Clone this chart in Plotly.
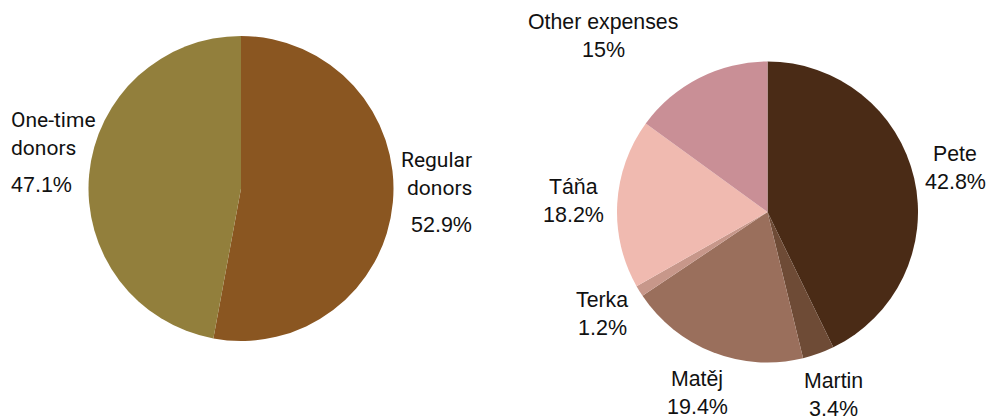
import math
import plotly.graph_objects as go

# ---------------- data ----------------
donor_labels = ["Regular donors", "One-time donors"]
donor_names = [["Regular", "donors"], ["One-time", "donors"]]
donor_values = [52.9, 47.1]

expense_labels = ["Pete", "Martin", "Matěj", "Terka", "Táňa", "Other expenses"]
expense_names = [["Pete"], ["Martin"], ["Matěj"], ["Terka"], ["Táňa"], ["Other expenses"]]
expense_values = [42.8, 3.4, 19.4, 1.2, 18.2, 15]

# ---------------- styles ----------------
W, H = 989, 419
donor_colors = ["#8A5621", "#927F3C"]
expense_colors = ["#4A2B16", "#6E4B36", "#9A6F5C", "#C7978A", "#F0BAB0", "#C98F96"]

# pie geometry in page pixels
left_pie = dict(cx=241, cy=188.5, r=152.5)
right_pie = dict(cx=767.5, cy=212, r=150.5)
LABEL_R = 1.29

# per-label nudges (px) and anchor
donor_label_style = [dict(dx=37, dy=-14, xanchor="right", align="right"),
                     dict(dx=-36, dy=-18, xanchor="left", align="left")]
expense_label_style = [dict(dx=-1.5, dy=0, xanchor="center", align="center")] + \
                      [dict(dx=0, dy=0, xanchor="center", align="center")] * 4 + \
                      [dict(dx=-76, dy=-3, xanchor="center", align="center")]

NAME_FONT_L = dict(family="Roboto", size=21, color="#111111")
PCT_FONT = dict(family="Liberation Sans", size=21.5, color="#111111")
NAME_FONT_R = dict(family="Liberation Sans", size=21.3, color="#111111")


def px(x):
    return x / W


def py(y):
    return 1 - y / H


def domain(p):
    return dict(x=[px(p["cx"] - p["r"]), px(p["cx"] + p["r"])],
                y=[py(p["cy"] + p["r"]), py(p["cy"] - p["r"])])


def fmt(v):
    return f"{v:g}%"


fig = go.Figure()
fig.add_trace(go.Pie(labels=donor_labels, values=donor_values, sort=False, direction="clockwise",
                     rotation=0, textinfo="none", hoverinfo="label+percent",
                     marker=dict(colors=donor_colors, line=dict(width=0)),
                     domain=domain(left_pie), showlegend=False))
fig.add_trace(go.Pie(labels=expense_labels, values=expense_values, sort=False, direction="clockwise",
                     rotation=0, textinfo="none", hoverinfo="label+percent",
                     marker=dict(colors=expense_colors, line=dict(width=0)),
                     domain=domain(right_pie), showlegend=False))

annotations = []


def add_labels(pie, names, values, styles, name_font, name_gap, pct_gap):
    total = sum(values)
    cum = 0
    for nm, v, st in zip(names, values, styles):
        mid = (cum + v / 2) / total * 2 * math.pi
        cum += v
        ax = pie["cx"] + LABEL_R * pie["r"] * math.sin(mid) + st["dx"]
        ay = pie["cy"] - LABEL_R * pie["r"] * math.cos(mid) + st["dy"]
        lines = list(nm) + [fmt(v)]
        fonts = [name_font] * len(nm) + [PCT_FONT]
        offs = [i * name_gap for i in range(len(nm))] + [(len(nm) - 1) * name_gap + pct_gap]
        centre = offs[-1] / 2
        for txt, o, f in zip(lines, offs, fonts):
            annotations.append(dict(text=txt, x=px(ax), y=py(ay + o - centre),
                                    xref="paper", yref="paper", xanchor=st["xanchor"],
                                    align=st["align"], yanchor="middle", showarrow=False,
                                    font=f))


add_labels(left_pie, donor_names, donor_values, donor_label_style, NAME_FONT_L, 28, 37)
add_labels(right_pie, expense_names, expense_values, expense_label_style, NAME_FONT_R, 28, 28)

fig.update_layout(width=W, height=H, margin=dict(l=0, r=0, t=0, b=0),
                  paper_bgcolor="white", plot_bgcolor="white", annotations=annotations)
fig.write_html("out.html", config={"displayModeBar": False},
               post_script="document.body.style.margin='0';document.body.style.overflow='hidden';")
